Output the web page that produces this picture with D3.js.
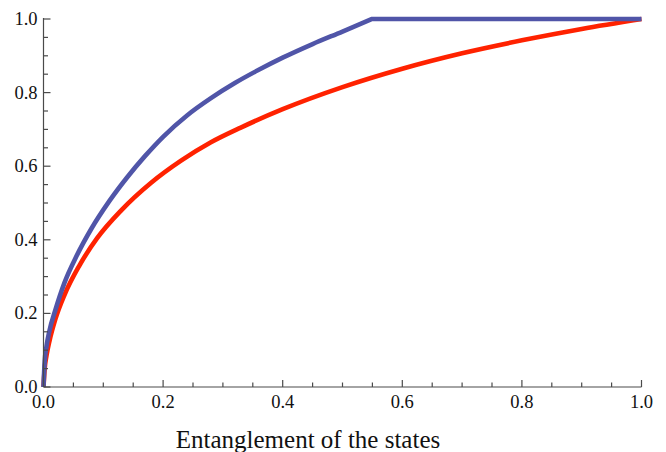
<!DOCTYPE html>
<html>
<head>
<meta charset="utf-8">
<script src="https://cdn.jsdelivr.net/npm/d3@7"></script>
<style>
  body { margin: 0; background: #fff; }
  svg { display: block; }
</style>
</head>
<body>
<script>
// values
// blue: rising part, then flat at 1 from x = 0.549 on
const blueX = [0, 0.002, 0.005, 0.01, 0.02, 0.035, 0.055, 0.08, 0.11, 0.14, 0.17, 0.2, 0.24, 0.28, 0.32, 0.36, 0.4, 0.45, 0.5, 0.549, 1.0];
const blueY = [0, 0.07, 0.11, 0.153, 0.21, 0.283, 0.355, 0.43, 0.505, 0.57, 0.628, 0.68, 0.738, 0.785, 0.826, 0.862, 0.895, 0.932, 0.966, 1.0, 1.0];

const redX = [0, 0.002, 0.005, 0.01, 0.02, 0.035, 0.06, 0.09, 0.13, 0.18, 0.23, 0.28, 0.33, 0.4, 0.5, 0.6, 0.7, 0.8, 0.9, 1.0];
const redY = [0, 0.05, 0.085, 0.125, 0.185, 0.25, 0.33, 0.405, 0.48, 0.555, 0.615, 0.665, 0.705, 0.755, 0.815, 0.865, 0.907, 0.942, 0.973, 1.0];

const majorTicks = [0, 0.2, 0.4, 0.6, 0.8, 1.0];
const minorTicks = d3.range(0, 1.0001, 0.05);
const xTitle = "Entanglement of the states";

const width = 666, height = 452;
const plotLeft = 43.5, plotRight = 641.5, plotTop = 19, plotBottom = 387;

const x = d3.scaleLinear().domain([0, 1]).range([plotLeft, plotRight]);
const y = d3.scaleLinear().domain([0, 1]).range([plotBottom, plotTop]);

const svg = d3.select("body").append("svg")
    .attr("width", width)
    .attr("height", height);

const serif = "'Liberation Serif', 'DejaVu Serif', serif";
const axisColor = "#4a4a4a";

// ----- curves -----
const line = d3.line()
    .x(d => x(d[0]))
    .y(d => y(d[1]))
    .curve(d3.curveMonotoneX);

const redData = redX.map((v, i) => [v, redY[i]]);
const blueData = blueX.map((v, i) => [v, blueY[i]]);

svg.append("path")
    .datum(redData)
    .attr("fill", "none")
    .attr("stroke", "#ff2200")
    .attr("stroke-width", 4.6)
    .attr("d", line);

// smooth rising part, then a straight run along the top
const blueCurve = blueData.filter(d => d[0] <= 0.549);
const blueFlat = blueData.filter(d => d[0] >= 0.549);
svg.append("path")
    .attr("fill", "none")
    .attr("stroke", "#5055a8")
    .attr("stroke-width", 4.6)
    .attr("d", line(blueCurve) + blueFlat.slice(1).map(d => `L${x(d[0])},${y(d[1])}`).join(""));

// ----- axes -----
const ax = svg.append("g").attr("stroke", axisColor).attr("stroke-width", 1.2);

ax.append("line").attr("x1", plotLeft).attr("x2", plotLeft).attr("y1", plotTop - 1).attr("y2", plotBottom);
ax.append("line").attr("x1", plotLeft).attr("x2", plotRight).attr("y1", plotBottom).attr("y2", plotBottom);

const isMajor = t => majorTicks.some(m => Math.abs(m - t) < 1e-6);

ax.selectAll("line.xt")
  .data(minorTicks)
  .join("line")
    .attr("class", "xt")
    .attr("x1", d => x(d)).attr("x2", d => x(d))
    .attr("y1", plotBottom).attr("y2", d => plotBottom - (isMajor(d) ? 7 : 4.5));

ax.selectAll("line.yt")
  .data(minorTicks)
  .join("line")
    .attr("class", "yt")
    .attr("y1", d => y(d)).attr("y2", d => y(d))
    .attr("x1", plotLeft).attr("x2", d => plotLeft + (isMajor(d) ? 7 : 4.5));

// tick labels
svg.selectAll("text.xl")
  .data(majorTicks)
  .join("text")
    .attr("class", "xl")
    .attr("x", d => x(d))
    .attr("y", 407.5)
    .attr("text-anchor", "middle")
    .style("font-family", serif)
    .style("font-size", "18.5px")
    .attr("fill", "#111")
    .text(d => d3.format(".1f")(d));

svg.selectAll("text.yl")
  .data(majorTicks)
  .join("text")
    .attr("class", "yl")
    .attr("x", 37.5)
    .attr("y", d => y(d) + 6)
    .attr("text-anchor", "end")
    .style("font-family", serif)
    .style("font-size", "18.5px")
    .attr("fill", "#111")
    .text(d => d3.format(".1f")(d));

svg.append("text")
    .attr("x", 308)
    .attr("y", 448)
    .attr("text-anchor", "middle")
    .style("font-family", serif)
    .style("font-size", "25px")
    .attr("fill", "#111")
    .text(xTitle);
</script>
</body>
</html>
